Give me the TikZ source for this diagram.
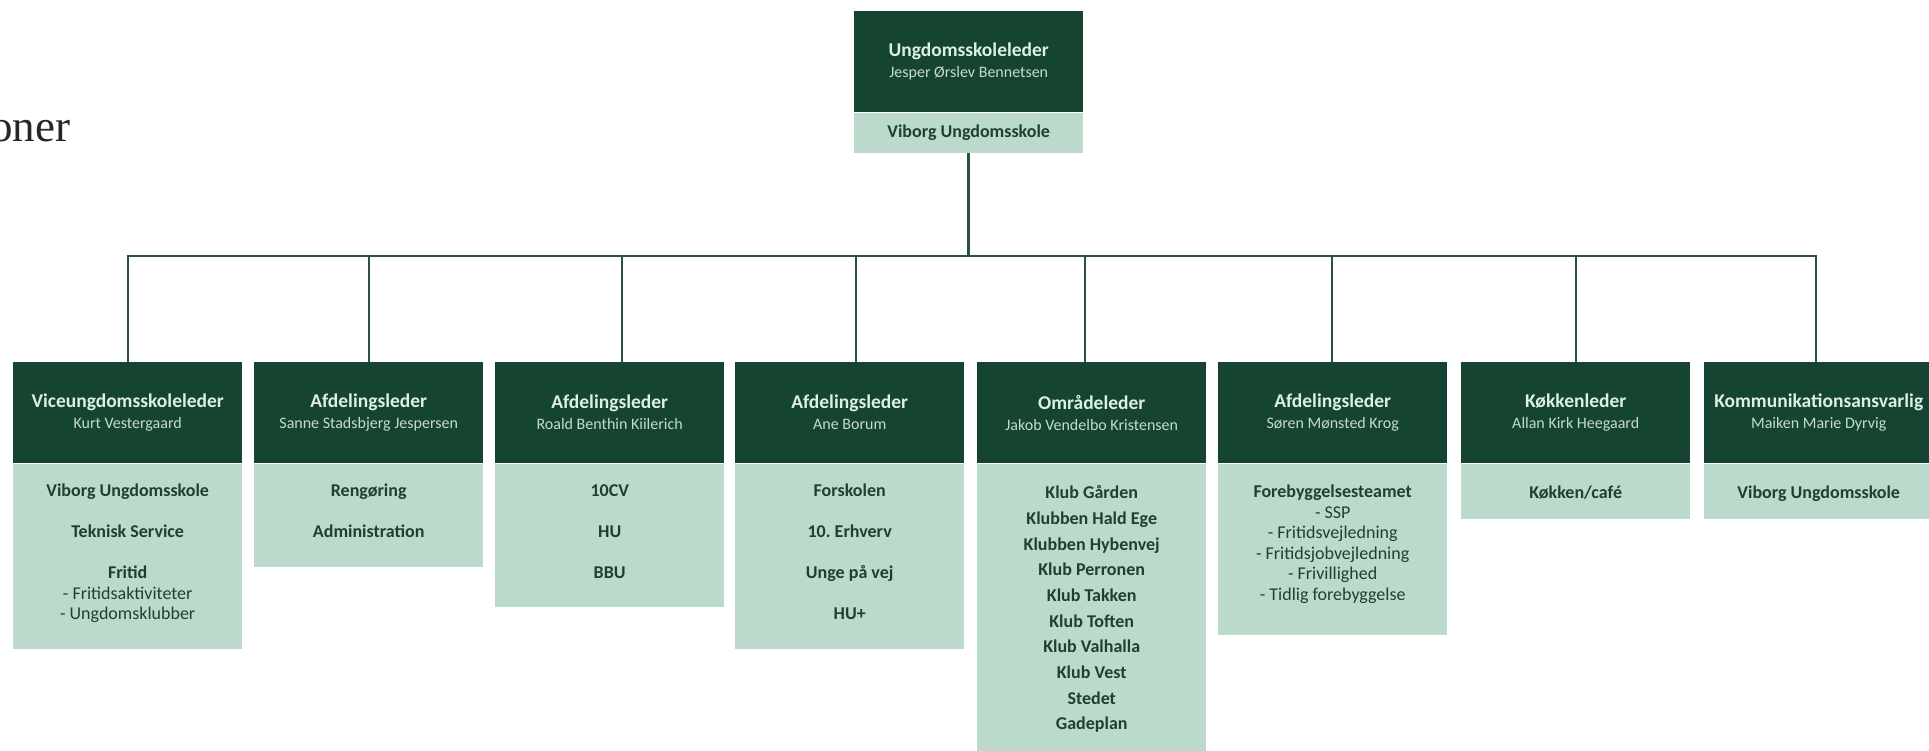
\documentclass[tikz,border=0pt]{standalone}
\usepackage{fontspec}
\setmainfont{Carlito}
\newfontfamily\serifone{Liberation Serif}
\definecolor{dkgreen}{RGB}{21,68,48}
\definecolor{ltgreen}{RGB}{187,218,204}
\definecolor{titlecol}{RGB}{222,239,229}
\definecolor{namecol}{RGB}{196,220,207}
\definecolor{bodycol}{RGB}{28,66,47}
\definecolor{linecol}{RGB}{42,80,63}
\newcommand{\ttl}[1]{{\color{titlecol}\bfseries\fontsize{19.5}{21}\selectfont #1}}
\newcommand{\nme}[1]{{\color{namecol}\fontsize{16}{21}\selectfont #1}}
\newcommand{\sub}[1]{{\mdseries\fontsize{18}{20.5}\selectfont #1}}
\frenchspacing
\begin{document}
\begin{tikzpicture}[x=1pt,y=1pt,
  head/.style={fill=dkgreen, minimum width=229pt, minimum height=101pt, inner sep=0pt,
    anchor=north west, align=center, font=\fontsize{16}{21}\selectfont},
  body/.style={fill=ltgreen, minimum width=229pt, anchor=north, inner sep=0pt},
  items/.style={anchor=north, align=center, text=bodycol, inner sep=0pt,
    font=\bfseries\fontsize{18}{20.5}\selectfont},
  conn/.style={draw=linecol, line width=2.5pt}]
\useasboundingbox (0,0) rectangle (1929,-751);
\clip (0,0) rectangle (1929,-751);
\fill[white] (0,0) rectangle (1929,-751);

% partial title
\node[font=\serifone\fontsize{45}{45}\selectfont, text=black!85, anchor=base west, inner sep=0pt] (pagetitle) at (-10,-142) {oner};

% top box
\node[head] (h0) at (854,-11) {\ttl{Ungdomsskoleleder}\\\nme{Jesper Ørslev Bennetsen}};
\node[body, minimum height=40pt, text=bodycol, font=\bfseries\fontsize{18}{20}\selectfont] (b0) at (h0.south) {Viborg Ungdomsskole};

% heads
\node[head] (h1) at (13,-362) {\ttl{Viceungdomsskoleleder}\\\nme{Kurt Vestergaard}};
\node[head] (h2) at (254,-362) {\ttl{Afdelingsleder}\\\nme{Sanne Stadsbjerg Jespersen}};
\node[head] (h3) at (495,-362) {\ttl{Afdelingsleder}\\\nme{Roald Benthin Kiilerich}};
\node[head] (h4) at (735,-362) {\ttl{Afdelingsleder}\\\nme{Ane Borum}};
\node[head] (h5) at (977,-362) {\ttl{Områdeleder}\\\nme{Jakob Vendelbo Kristensen}};
\node[head] (h6) at (1218,-362) {\ttl{Afdelingsleder}\\\nme{Søren Mønsted Krog}};
\node[head] (h7) at (1461,-362) {\ttl{Køkkenleder}\\\nme{Allan Kirk Heegaard}};
\node[head] (h8) at (1704,-362) {\ttl{Kommunikationsansvarlig}\\\nme{Maiken Marie Dyrvig}};

% bodies
\node[body, minimum height=185pt] (b1) at (h1.south) {};
\node[body, minimum height=103pt] (b2) at (h2.south) {};
\node[body, minimum height=143pt] (b3) at (h3.south) {};
\node[body, minimum height=185pt] (b4) at (h4.south) {};
\node[body, minimum height=300pt] (b5) at (h5.south) {};
\node[body, minimum height=171pt] (b6) at (h6.south) {};
\node[body, minimum height=55pt] (b7) at (h7.south) {};
\node[body, minimum height=55pt] (b8) at (h8.south) {};

% body texts
\node[items] (t1) at ([yshift=-18pt]b1.north) {\rule{0pt}{15pt}Viborg Ungdomsskole\\[20.5pt]Teknisk Service\\[20.5pt]Fritid\\\sub{- Fritidsaktiviteter}\\\sub{- Ungdomsklubber}};
\node[items] (t2) at ([yshift=-18pt]b2.north) {\rule{0pt}{15pt}Rengøring\\[20.5pt]Administration};
\node[items] (t3) at ([yshift=-18pt]b3.north) {\rule{0pt}{15pt}10CV\\[20.5pt]HU\\[20.5pt]BBU};
\node[items] (t4) at ([yshift=-18pt]b4.north) {\rule{0pt}{15pt}Forskolen\\[20.5pt]10. Erhverv\\[20.5pt]Unge på vej\\[20.5pt]HU+};
\node[items, font=\bfseries\fontsize{18}{25.7}\selectfont] (t5) at ([yshift=-20pt]b5.north) {\rule{0pt}{15pt}Klub Gården\\Klubben Hald Ege\\Klubben Hybenvej\\Klub Perronen\\Klub Takken\\Klub Toften\\Klub Valhalla\\Klub Vest\\Stedet\\Gadeplan};
\node[items] (t6) at ([yshift=-19pt]b6.north) {\rule{0pt}{15pt}Forebyggelsesteamet\\\sub{- SSP}\\\sub{- Fritidsvejledning}\\\sub{- Fritidsjobvejledning}\\\sub{- Frivillighed}\\\sub{- Tidlig forebyggelse}};
\node[items] (t7) at ([yshift=-20pt]b7.north) {\rule{0pt}{15pt}Køkken/café};
\node[items] (t8) at ([yshift=-20pt]b8.north) {\rule{0pt}{15pt}Viborg Ungdomsskole};

% connectors
\coordinate (c1) at (128,-256);
\coordinate (c2) at (369,-256);
\coordinate (c3) at (622,-256);
\coordinate (c4) at (856,-256);
\coordinate (c5) at (1085,-256);
\coordinate (c6) at (1332,-256);
\coordinate (c7) at (1576,-256);
\coordinate (c8) at (1816,-256);
\draw[conn] (b0.south) -- (b0.south |- c1);
\draw[conn, line cap=rect] (c1) -- (c8);
\foreach \i in {1,...,8}{
  \draw[conn] (c\i) -- (c\i |- h\i.north);
}
\end{tikzpicture}
\end{document}
